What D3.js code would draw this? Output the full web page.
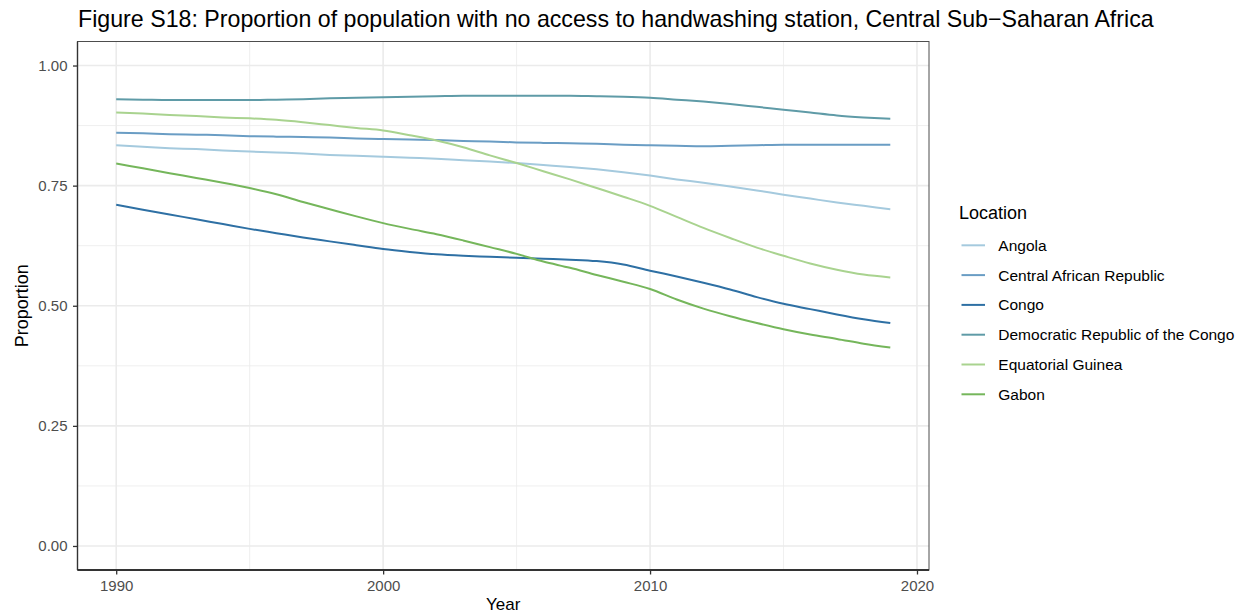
<!DOCTYPE html>
<html>
<head>
<meta charset="utf-8">
<script src="https://cdn.jsdelivr.net/npm/d3@7"></script>
<style>
  html, body { margin: 0; padding: 0; background: #fff; }
  svg { display: block; font-family: "Liberation Sans", Arial, sans-serif; }
</style>
</head>
<body>
<svg id="chart" width="1246" height="616"></svg>
<script>
const years = d3.range(1990, 2020);
const locations = ["Angola", "Central African Republic", "Congo", "Democratic Republic of the Congo", "Equatorial Guinea", "Gabon"];
const angola   = [.834,.831,.828,.826,.823,.821,.819,.817,.814,.812,.810,.808,.806,.803,.800,.797,.793,.789,.784,.778,.771,.763,.756,.748,.740,.731,.723,.715,.708,.701];
const car      = [.860,.859,.857,.856,.855,.853,.852,.851,.850,.848,.847,.846,.845,.843,.842,.840,.839,.838,.837,.835,.834,.833,.832,.833,.834,.835,.835,.835,.835,.835];
const congo    = [.710,.700,.690,.680,.670,.660,.651,.642,.634,.626,.618,.612,.607,.604,.602,.600,.598,.596,.593,.586,.573,.561,.548,.534,.518,.504,.493,.482,.472,.464];
const drc      = [.930,.929,.928,.928,.928,.928,.929,.930,.932,.933,.934,.935,.936,.937,.937,.937,.937,.937,.936,.935,.933,.929,.925,.920,.914,.908,.902,.896,.892,.889];
const eqGuinea = [.902,.900,.897,.895,.892,.890,.887,.882,.876,.870,.865,.855,.844,.830,.813,.797,.780,.763,.745,.727,.708,.685,.662,.641,.621,.604,.588,.575,.565,.559];
const gabon    = [.796,.786,.776,.766,.756,.745,.732,.716,.701,.686,.672,.660,.649,.636,.622,.608,.592,.579,.564,.550,.535,.513,.494,.478,.464,.451,.440,.431,.421,.413];
const series = [angola, car, congo, drc, eqGuinea, gabon];
const yTicks = [0, 0.25, 0.5, 0.75, 1];
const yMinor = [0.125, 0.375, 0.625, 0.875];
const xTicks = [1990, 2000, 2010, 2020];
const xMinor = [1995, 2005, 2015];
const colors = ["#a5cade", "#6a9dc4", "#2e70a4", "#5f9ba7", "#a9d38f", "#75b65b"];

const svg = d3.select("#chart");
const pLeft = 77.5, pRight = 929, pTop = 41.5, pBottom = 570;
const x = d3.scaleLinear().domain([1988.55, 2020.45]).range([pLeft, pRight]);
const y = d3.scaleLinear().domain([-0.05, 1.05]).range([pBottom, pTop]);

// gridlines
const grid = svg.append("g");
grid.selectAll(".ym").data(yMinor).enter().append("line")
  .attr("x1", pLeft).attr("x2", pRight).attr("y1", d => y(d)).attr("y2", d => y(d))
  .attr("stroke", "#ebebeb").attr("stroke-width", 0.8);
grid.selectAll(".xm").data(xMinor).enter().append("line")
  .attr("y1", pTop).attr("y2", pBottom).attr("x1", d => x(d)).attr("x2", d => x(d))
  .attr("stroke", "#ebebeb").attr("stroke-width", 0.8);
grid.selectAll(".yM").data(yTicks).enter().append("line")
  .attr("x1", pLeft).attr("x2", pRight).attr("y1", d => y(d)).attr("y2", d => y(d))
  .attr("stroke", "#ebebeb").attr("stroke-width", 1.6);
grid.selectAll(".xM").data(xTicks).enter().append("line")
  .attr("y1", pTop).attr("y2", pBottom).attr("x1", d => x(d)).attr("x2", d => x(d))
  .attr("stroke", "#ebebeb").attr("stroke-width", 1.6);

// lines
const line = d3.line().x((d, i) => x(years[i])).y(d => y(d)).curve(d3.curveMonotoneX);
svg.append("g").selectAll("path").data(series).enter().append("path")
  .attr("d", d => line(d))
  .attr("fill", "none")
  .attr("stroke", (d, i) => colors[i])
  .attr("stroke-width", 2);

// border
svg.append("rect").attr("x", pLeft).attr("y", pTop).attr("width", pRight - pLeft).attr("height", pBottom - pTop)
  .attr("fill", "none").attr("stroke", "#4d4d4d").attr("stroke-width", 1);
// axis lines (left, bottom)
svg.append("line").attr("x1", pLeft).attr("x2", pLeft).attr("y1", pTop).attr("y2", pBottom)
  .attr("stroke", "#333").attr("stroke-width", 1.4);
svg.append("line").attr("x1", pLeft).attr("x2", pRight).attr("y1", pBottom).attr("y2", pBottom)
  .attr("stroke", "#333").attr("stroke-width", 1.8);

// axes
const xAxis = d3.axisBottom(x).tickValues(xTicks).tickFormat(d3.format("d")).tickSize(4.5).tickPadding(5.5);
const gx = svg.append("g").attr("transform", `translate(0,${pBottom})`).call(xAxis);
const yAxis = d3.axisLeft(y).tickValues(yTicks).tickFormat(d3.format(".2f")).tickSize(4.5).tickPadding(5.5);
const gy = svg.append("g").attr("transform", `translate(${pLeft},0)`).call(yAxis);
[gx, gy].forEach(g => {
  g.select(".domain").remove();
  g.selectAll(".tick line").attr("stroke", "#333").attr("stroke-width", 1.3);
  g.selectAll(".tick text").attr("fill", "#4d4d4d").style("font-size", "15px")
    .style("font-family", "'Liberation Sans', Arial, sans-serif");
});

// axis titles
svg.append("text").attr("x", (pLeft + pRight) / 2).attr("y", 610).attr("text-anchor", "middle")
  .style("font-size", "17px").attr("fill", "#000").text("Year");
svg.append("text").attr("transform", `translate(28,${(pTop + pBottom) / 2}) rotate(-90)`).attr("text-anchor", "middle")
  .style("font-size", "18px").attr("fill", "#000").text("Proportion");

// title
svg.append("text").attr("x", 78).attr("y", 26.5).style("font-size", "23.2px").attr("fill", "#000")
  .text("Figure S18: Proportion of population with no access to handwashing station, Central Sub\u2212Saharan Africa");

// legend
const lg = svg.append("g");
lg.append("text").attr("x", 959).attr("y", 218.5).style("font-size", "18px").attr("fill", "#000").text("Location");
const items = lg.selectAll(".item").data(locations).enter().append("g")
  .attr("transform", (d, i) => `translate(0,${245.3 + i * 29.8})`);
items.append("line").attr("x1", 961.5).attr("x2", 985).attr("y1", 0).attr("y2", 0)
  .attr("stroke", (d, i) => colors[i]).attr("stroke-width", 2);
items.append("text").attr("x", 998.3).attr("y", 5.5).style("font-size", "15.5px").attr("fill", "#000").text(d => d);
</script>
</body>
</html>
